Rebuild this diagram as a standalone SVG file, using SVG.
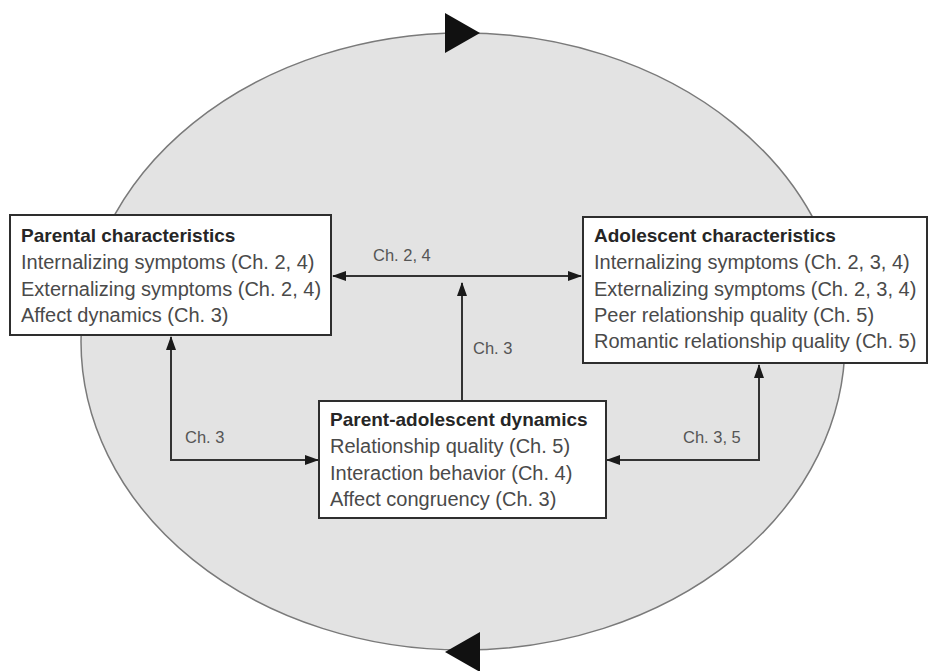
<svg xmlns="http://www.w3.org/2000/svg" width="928" height="671" viewBox="0 0 928 671">
<defs>
<style>
.box{fill:#fff;stroke:#2e2e2e;stroke-width:2}
.t{font-family:"Liberation Sans",Arial,sans-serif;font-size:20px;fill:#4a4a4a}
.h{font-family:"Liberation Sans",Arial,sans-serif;font-size:19px;font-weight:bold;fill:#262626}
.lbl{font-family:"Liberation Sans",Arial,sans-serif;font-size:16.5px;fill:#555}
.c{fill:none;stroke:#333;stroke-width:2}
</style>
<marker id="ah" viewBox="0 0 14 10" refX="13" refY="5" markerWidth="14" markerHeight="10" markerUnits="userSpaceOnUse" orient="auto-start-reverse">
<path d="M0,0 L14,5 L0,10 Z" fill="#1a1a1a"/>
</marker>
</defs>
<rect width="928" height="671" fill="#fff"/>
<g id="cycle">
<ellipse cx="463" cy="341.5" rx="382" ry="308.5" fill="#e3e3e3" stroke="#7a7a7a" stroke-width="1.5"/>
<polygon points="445,13 480,33 445,53" fill="#111"/>
<polygon points="480,632 445,652 480,672" fill="#111"/>
</g>
<g id="connectors">
<line class="c" x1="333" y1="276" x2="581" y2="276" marker-start="url(#ah)" marker-end="url(#ah)"/>
<line class="c" x1="462" y1="401" x2="462" y2="283" marker-end="url(#ah)"/>
<polyline class="c" points="171,337 171,460 318,460" marker-start="url(#ah)" marker-end="url(#ah)"/>
<polyline class="c" points="759,365 759,460 607,460" marker-start="url(#ah)" marker-end="url(#ah)"/>
<text class="lbl" x="373" y="261">Ch. 2, 4</text>
<text class="lbl" x="473" y="354">Ch. 3</text>
<text class="lbl" x="185" y="443">Ch. 3</text>
<text class="lbl" x="683" y="443">Ch. 3, 5</text>
</g>
<g id="parental">
<rect class="box" x="10" y="215" width="321" height="120"/>
<text class="h" x="21" y="242">Parental characteristics</text>
<text class="t" x="21" y="269">Internalizing symptoms (Ch. 2, 4)</text>
<text class="t" x="21" y="296">Externalizing symptoms (Ch. 2, 4)</text>
<text class="t" x="21" y="322">Affect dynamics (Ch. 3)</text>
</g>
<g id="adolescent">
<rect class="box" x="583" y="217" width="344" height="146"/>
<text class="h" x="594" y="242">Adolescent characteristics</text>
<text class="t" x="594" y="269">Internalizing symptoms (Ch. 2, 3, 4)</text>
<text class="t" x="594" y="296">Externalizing symptoms (Ch. 2, 3, 4)</text>
<text class="t" x="594" y="322">Peer relationship quality (Ch. 5)</text>
<text class="t" x="594" y="348">Romantic relationship quality (Ch. 5)</text>
</g>
<g id="dynamics">
<rect class="box" x="319" y="401" width="287" height="117"/>
<text class="h" x="330" y="426">Parent-adolescent dynamics</text>
<text class="t" x="330" y="453">Relationship quality (Ch. 5)</text>
<text class="t" x="330" y="480">Interaction behavior (Ch. 4)</text>
<text class="t" x="330" y="506">Affect congruency (Ch. 3)</text>
</g>
</svg>
